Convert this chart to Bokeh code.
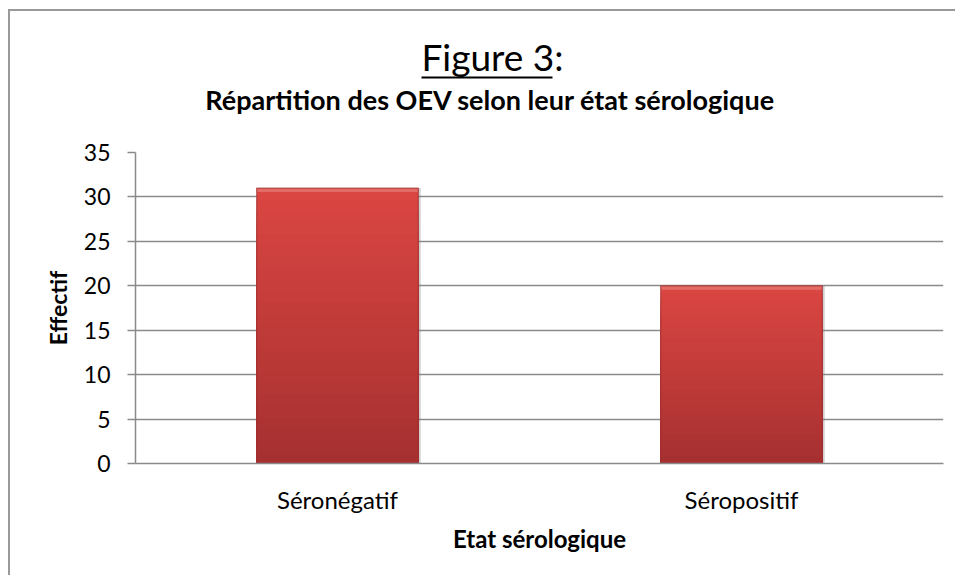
from bokeh.plotting import figure
from bokeh.layouts import column
from bokeh.models import FactorRange, FixedTicker, ColumnDataSource
from bokeh.core.properties import value
from bokeh.transform import dodge
from bokeh.embed import file_html
from bokeh.resources import INLINE

categories = ["Séronégatif", "Séropositif"]
effectif = [31, 20]
y_ticks = [0, 5, 10, 15, 20, 25, 30, 35]
title_text = "Figure 3"
subtitle_text = "Répartition des OEV selon leur état sérologique"
x_title = "Etat sérologique"
y_title = "Effectif"

FONT = "Lato"
GRID = "#8a8a8a"

# ---------- title block (page-pixel coordinates inside its frame) ----------
t = figure(width=945, height=121, x_range=(135, 943), y_range=(132, 11),
           output_backend="svg", toolbar_location=None,
           min_border_left=125, min_border_right=12, min_border_top=0, min_border_bottom=0)
t.axis.visible = False
t.grid.grid_line_color = None
t.outline_line_color = None
t.text(x=[421], y=[56], text=[title_text + ":"], text_font=value(FONT), text_font_size="37px",
       text_align="left", text_baseline="alphabetic", text_color="black")
t.segment(x0=[421], y0=[77], x1=[552], y1=[77], line_color="black", line_width=2)
t.text(x=[490], y=[99], text=[subtitle_text], text_font=value(FONT), text_font_size="27px",
       text_font_style="bold", text_align="center", text_baseline="alphabetic", text_color="black")

# ---------- chart ----------
p = figure(width=945, height=443, x_range=FactorRange(*categories, range_padding=0),
           y_range=(0, 35), output_backend="svg", toolbar_location=None,
           min_border_left=125, min_border_right=12, min_border_top=20, min_border_bottom=112)
p.outline_line_color = None
p.background_fill_color = "white"
p.border_fill_color = "white"

p.yaxis.ticker = FixedTicker(ticks=y_ticks)
p.yaxis.axis_line_color = GRID
p.yaxis.axis_line_width = 1.5
p.yaxis.major_tick_line_color = GRID
p.yaxis.major_tick_line_width = 1.5
p.yaxis.major_tick_out = 8
p.yaxis.major_tick_in = 0
p.yaxis.minor_tick_line_color = None
p.yaxis.major_label_standoff = 17
p.yaxis.major_label_text_font = FONT
p.yaxis.major_label_text_font_size = "23px"
p.yaxis.major_label_text_color = "black"
p.yaxis.axis_label = y_title
p.yaxis.axis_label_text_font = FONT
p.yaxis.axis_label_text_font_size = "23px"
p.yaxis.axis_label_text_font_style = "bold"
p.yaxis.axis_label_text_color = "black"
p.yaxis.axis_label_standoff = 9

p.xaxis.axis_line_color = GRID
p.xaxis.axis_line_width = 1.5
p.xaxis.major_tick_line_color = None
p.xaxis.minor_tick_line_color = None
p.xaxis.major_label_standoff = 15
p.xaxis.major_label_text_font = FONT
p.xaxis.major_label_text_font_size = "24px"
p.xaxis.major_label_text_color = "black"
p.xaxis.axis_label = x_title
p.xaxis.axis_label_text_font = FONT
p.xaxis.axis_label_text_font_size = "24px"
p.xaxis.axis_label_text_font_style = "bold"
p.xaxis.axis_label_text_color = "black"
p.xaxis.axis_label_standoff = 7

p.xgrid.grid_line_color = None
p.ygrid.grid_line_color = GRID
p.ygrid.grid_line_width = 1.5

# bars: soft shadow + vertical gradient simulated by stacked bars
src = ColumnDataSource(dict(cat=categories, v=effectif,
                            hb=[v - 0.45 for v in effectif]))
p.vbar(x=dodge("cat", 0.006, range=p.x_range), top="v", width=0.4, source=src,
       fill_color="#777777", fill_alpha=0.35, line_color=None)

top_rgb = (218, 70, 66)
bot_rgb = (166, 48, 48)
N = 24
for k in range(N, 0, -1):
    f = k / N
    col = tuple(int(round(bot_rgb[i] + (top_rgb[i] - bot_rgb[i]) * (k - 1) / (N - 1))) for i in range(3))
    s = ColumnDataSource(dict(cat=categories, t=[v * f for v in effectif]))
    p.vbar(x="cat", top="t", width=0.4, source=s,
           fill_color="#%02x%02x%02x" % col, line_color=None)

# bevel highlight along the top edge
p.vbar(x="cat", top="v", bottom="hb", width=0.4, source=src,
       fill_color="#e46c67", line_color=None)
p.vbar(x="cat", top="v", width=0.4, source=src, fill_color=None,
       line_color="#9e2e2e", line_width=1.2, line_alpha=0.7)

layout = column(t, p, spacing=0,
                styles={"margin-left": "8px", "margin-top": "9px",
                        "border-left": "2px solid #999999", "border-top": "2px solid #999999"})

open("out.html", "w").write(file_html(layout, INLINE))
